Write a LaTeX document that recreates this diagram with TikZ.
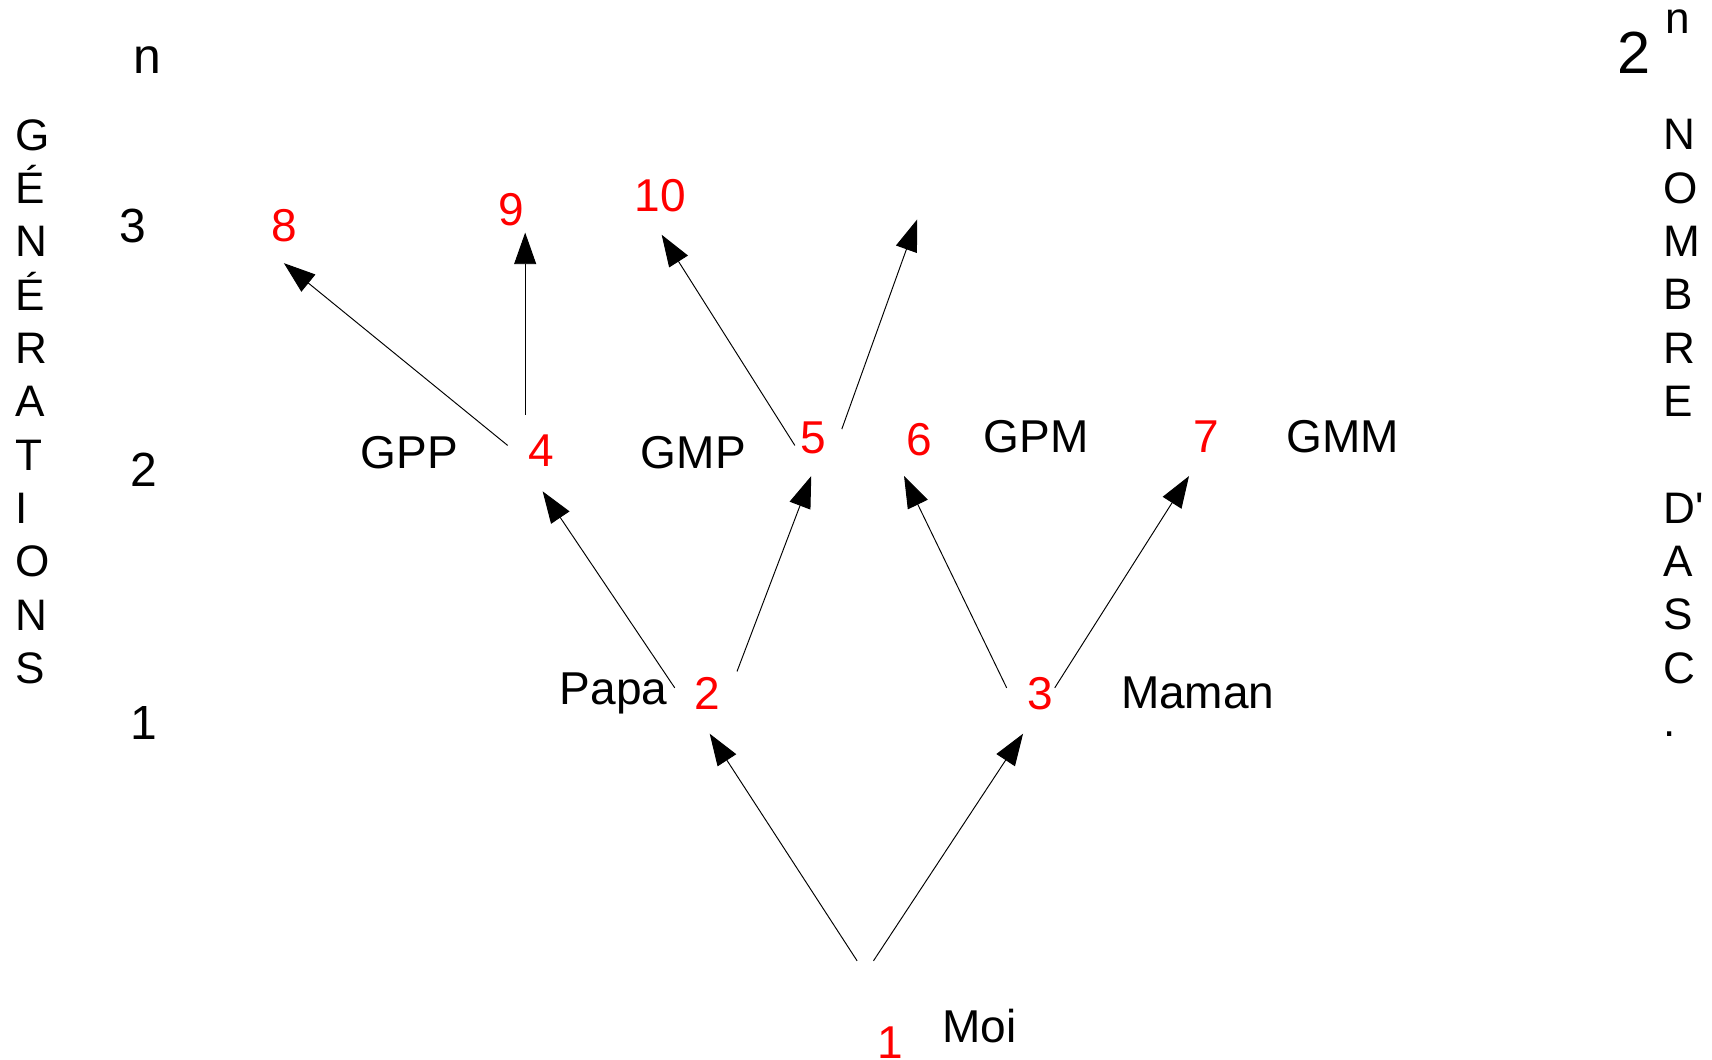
\documentclass[tikz,border=0pt]{standalone}
\usepackage{fontspec}
\setmainfont{Liberation Sans}
\usepackage{tikz}
\usetikzlibrary{arrows.meta,positioning,calc}

\begin{document}
\begin{tikzpicture}[x=0.02cm,y=-0.02cm,
  lbl/.style={font=\fontsize{24}{28}\selectfont, inner sep=0pt},
  num/.style={lbl, text=red},
  gen/.style={font=\fontsize{25}{29}\selectfont, inner sep=0pt},
  vert/.style={font=\fontsize{23}{27.8}\selectfont, align=left, inner sep=0pt, anchor=north west},
  fleche/.style={-{Triangle[length=16.5pt,width=11.5pt]}, line width=0.5pt}]
\useasboundingbox (0,0) rectangle (1568,970);
% colonnes de gauche et de droite
\node[vert] (gener) at (14,109) {G\\É\\N\\É\\R\\A\\T\\I\\O\\N\\S};
\node[vert] (nombre) at (1523,109) {N\\O\\M\\B\\R\\E\\\mbox{}\\D\textquotesingle\\A\\S\\C\\.};
\node[gen, font=\fontsize{26}{30}\selectfont] (nleft) at (135,55) {n};
\node[gen] (g3) at (122,207) {3};
\node[gen] (g2) at (132,430) {2};
\node[gen] (g1) at (132,662) {1};
\node[font=\fontsize{31}{36}\selectfont, inner sep=0pt] (pow) at (1497,48) {2};
\node[gen, font=\fontsize{23}{27}\selectfont] (powexp) at (1537,20) {n};
% numeros
\node[num] (p1) at (815,955) {1};
\node[num] (p2) at (648,635) {2};
\node[num] (p3) at (953,635) {3};
\node[num] (p4) at (496,413) {4};
\node[num] (p5) at (745,401) {5};
\node[num] (p6) at (842,403) {6};
\node[num] (p7) at (1105,400) {7};
\node[num] (p8) at (260,207) {8};
\node[num] (p9) at (468,192) {9};
\node[num] (p10) at (605,179) {10};
\coordinate (p11) at (840,201);
% noms
\node[lbl] (moi) at (897,940) {Moi};
\node[lbl] (papa) at (562,635) {Papa};
\node[lbl] (maman) at (1097,635) {Maman};
\node[lbl] (gpp) at (375,415) {GPP};
\node[lbl] (gmp) at (635,415) {GMP};
\node[lbl] (gpm) at (949,400) {GPM};
\node[lbl] (gmm) at (1230,400) {GMM};
% fleches
\draw[fleche] ($(p1)+(-30,-75)$) -- ($(p2)+(2,37)$);
\draw[fleche] ($(p1)+(-15,-75)$) -- ($(p3)+(-16,37)$);
\draw[fleche] ($(p2)+(-30,-5)$) -- ($(p4)+(1,37)$);
\draw[fleche] ($(p2)+(27,-20)$) -- ($(p5)+(-2,35)$);
\draw[fleche] ($(p3)+(-31,-5)$) -- ($(p6)+(-14,33)$);
\draw[fleche] ($(p3)+(13,-5)$) -- ($(p7)+(-16,36)$);
\draw[fleche] ($(p4)+(-31,-5)$) -- ($(p8)+(0,34)$);
\draw[fleche] ($(p4)+(-15,-33)$) -- ($(p9)+(13,21)$);
\draw[fleche] ($(p5)+(-17,7)$) -- ($(p10)+(1,36)$);
\draw[fleche] ($(p5)+(26,-8)$) -- (p11);
\end{tikzpicture}
\end{document}
